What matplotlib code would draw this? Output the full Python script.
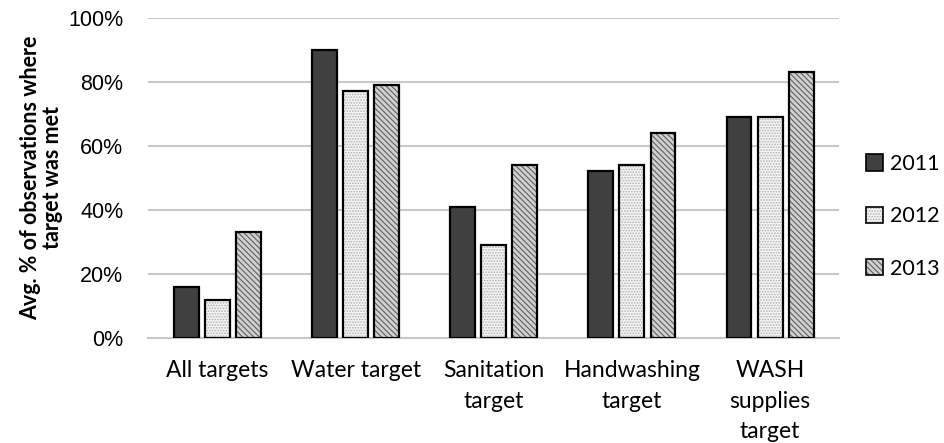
import numpy as np
import matplotlib
matplotlib.use('Agg')
import matplotlib.pyplot as plt
from matplotlib.ticker import PercentFormatter

categories = ['All targets', 'Water target', 'Sanitation\ntarget',
              'Handwashing\ntarget', 'WASH\nsupplies\ntarget']
years = ['2011', '2012', '2013']
vals_2011 = [16, 90, 41, 52, 69]
vals_2012 = [12, 77, 29, 54, 69]
vals_2013 = [33, 79, 54, 64, 83]

plt.rcParams['hatch.linewidth'] = 0.8

fig = plt.figure(figsize=(9.45, 4.43), dpi=100)
ax = fig.add_axes([0.157, 0.237, 0.731, 0.723])

x = np.arange(len(categories))
w = 0.18
step = 0.225
styles = [
    dict(facecolor='#404040', hatch=None, hatchcolor=None),
    dict(facecolor='#f4f4f4', hatch='......', hatchcolor='#b0b0b0'),
    dict(facecolor='#d0d0d0', hatch='\\\\\\\\\\\\', hatchcolor='#606060'),
]
for i, (yr, vals, st) in enumerate(zip(years, [vals_2011, vals_2012, vals_2013], styles)):
    kw = dict(facecolor=st['facecolor'], edgecolor='black', linewidth=1.6, label=yr, zorder=3)
    if st['hatch']:
        kw['hatch'] = st['hatch']
    bars = ax.bar(x + (i - 1) * step, vals, w, **kw)
    if st['hatch']:
        for b in bars:
            b._hatch_color = matplotlib.colors.to_rgba(st['hatchcolor'])

ax.set_ylim(0, 100)
ax.set_xlim(-0.5, 4.5)
ax.set_yticks(np.arange(0, 101, 20))
ax.yaxis.set_major_formatter(PercentFormatter(decimals=0))
ax.grid(axis='y', color='#c8c8c8', linewidth=1.5, zorder=0)
for s in ['top', 'right', 'left']:
    ax.spines[s].set_visible(False)
ax.spines['bottom'].set_color('#c8c8c8')
ax.spines['bottom'].set_linewidth(1.5)
ax.tick_params(axis='both', length=0)
ax.tick_params(axis='y', labelsize=15.5, pad=18)
for t in ax.get_yticklabels():
    t.set_family('Liberation Sans')
ax.set_xticks(x)
ax.set_xticklabels(categories, fontsize=16.5, family='Lato', linespacing=1.55, va='top')
ax.tick_params(axis='x', pad=16)

ax.set_ylabel('Avg. % of observations where\ntarget was met', fontsize=15.5,
              family='Lato', fontweight='bold', labelpad=4, linespacing=1.05)

leg = ax.legend(loc='center left', bbox_to_anchor=(1.02, 0.38), frameon=False,
                borderaxespad=0.2, prop={'family': 'Lato', 'size': 15.5},
                labelspacing=1.5, handlelength=0.8, handleheight=0.8,
                handletextpad=0.3)
for p in leg.get_patches():
    p.set_linewidth(1.2)

fig.savefig('out.png', dpi=100)
